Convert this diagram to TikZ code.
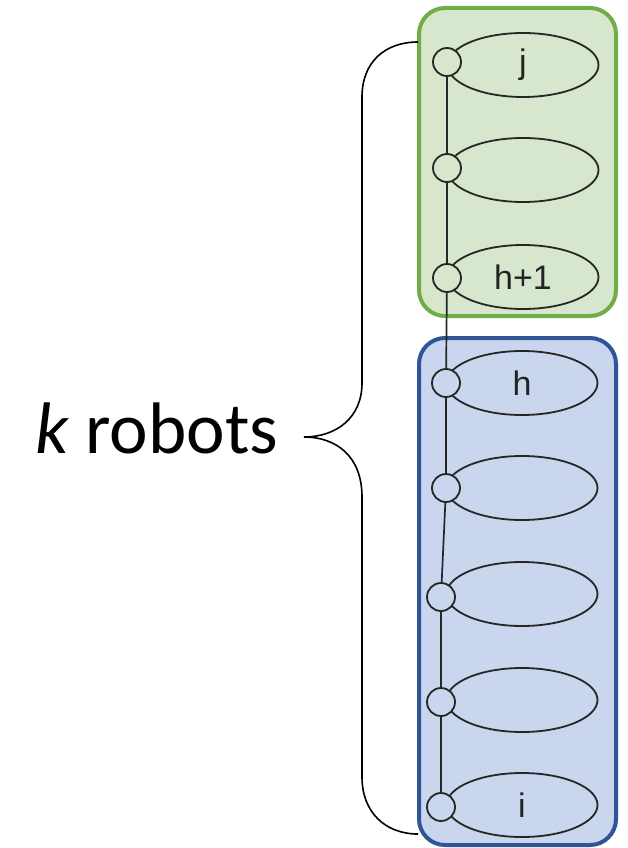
\documentclass[tikz,border=0pt]{standalone}
\usepackage{fontspec}
\setmainfont{Liberation Sans}
\newfontfamily\bracefont{Carlito}
\usetikzlibrary{shapes.geometric}

\definecolor{grpgreenfill}{RGB}{214,231,205}
\definecolor{grpgreenline}{RGB}{112,173,71}
\definecolor{grpbluefill}{RGB}{201,214,237}
\definecolor{grpblueline}{RGB}{47,85,151}
\definecolor{labelgray}{RGB}{35,35,35}

\tikzset{
  group/.style={rounded corners=26pt, line width=4pt},
  greengroup/.style={group, draw=grpgreenline, fill=grpgreenfill},
  bluegroup/.style={group, draw=grpblueline, fill=grpbluefill},
  robot/.style={ellipse, draw=black!85, line width=1.8pt, minimum width=151pt,
    minimum height=64pt, inner sep=0pt, font=\fontsize{34}{34}\selectfont,
    text=labelgray},
  joint/.style={circle, draw=black!85, line width=1.8pt, minimum size=28pt, inner sep=0pt},
  chain/.style={draw=black!85, line width=1.7pt},
  brace/.style={draw=black, line width=1.6pt}
}

\begin{document}
\begin{tikzpicture}[x=1pt,y=-1pt]
\useasboundingbox (0,0) rectangle (628,848);

% the two groups of robots
\path[greengroup] (419,8) rectangle (616,316);
\path[bluegroup] (419,338) rectangle (616,845);

% joints along the chain
\coordinate (p1) at (447,62);
\coordinate (p2) at (447,168);
\coordinate (p3) at (447,278);
\coordinate (p4) at (446,383);
\coordinate (p5) at (446,488);
\coordinate (p6) at (441,597);
\coordinate (p7) at (441,702);
\coordinate (p8) at (441,807);

\draw[chain] (p1) -- (p2) -- (p3) -- (p4) -- (p5) -- (p6) -- (p7) -- (p8);

% robots
\node[robot] (r1) at (523,65)  {j};
\node[robot] (r2) at (523,170) {};
\node[robot] (r3) at (523,277) {h+1};
\node[robot] (r4) at (522,383) {h};
\node[robot] (r5) at (522,488) {};
\node[robot] (r6) at (522,594) {};
\node[robot] (r7) at (522,700) {};
\node[robot] (r8) at (522,805) {i};

\node[joint, fill=grpgreenfill] (c1) at (p1) {};
\node[joint, fill=grpgreenfill] (c2) at (p2) {};
\node[joint, fill=grpgreenfill] (c3) at (p3) {};
\node[joint, fill=grpbluefill] (c4) at (p4) {};
\node[joint, fill=grpbluefill] (c5) at (p5) {};
\node[joint, fill=grpbluefill] (c6) at (p6) {};
\node[joint, fill=grpbluefill] (c7) at (p7) {};
\node[joint, fill=grpbluefill] (c8) at (p8) {};

% curly brace spanning all robots
\coordinate (btop) at (418,42);
\coordinate (btip) at (304,437);
\coordinate (bbot) at (418,834);
\draw[brace] (btop) .. controls (385,42) and (362,62) .. (362,97)
  -- (362,383) .. controls (362,418) and (336,437) .. (btip)
  .. controls (336,437) and (362,456) .. (362,497)
  -- (362,777) .. controls (362,812) and (385,834) .. (bbot);

\node[anchor=base west, inner sep=0pt, font=\bracefont\fontsize{73}{73}\selectfont]
  (lbl) at (35,453) {\textit{k} robots};
\end{tikzpicture}
\end{document}
